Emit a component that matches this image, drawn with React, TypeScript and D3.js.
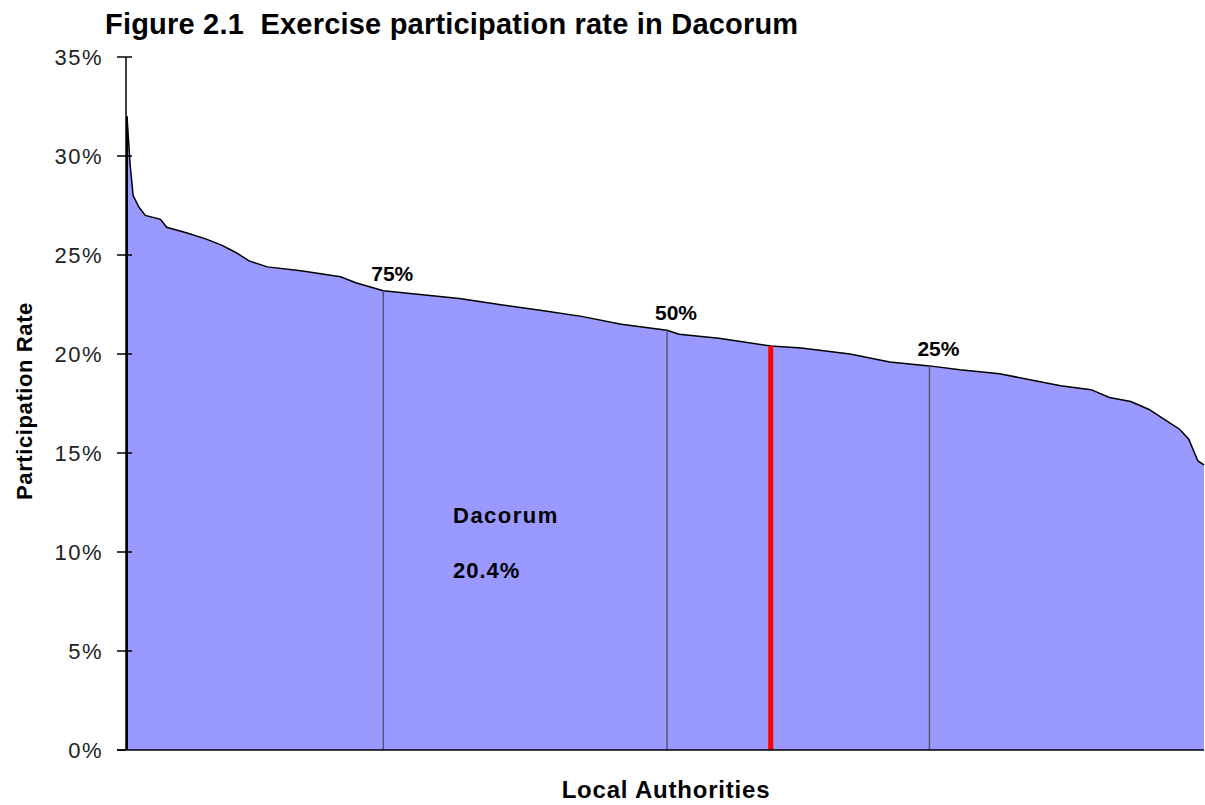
import React from "react";
import * as d3 from "d3";

// sorted participation rates (%) by local authority rank
const ranks = [1, 2, 3, 5, 7, 12, 14, 21, 27, 32, 37, 41, 47, 58, 71, 76, 85, 97, 110, 123, 137, 150, 163, 178, 182, 195, 212, 222, 238, 251, 264, 274, 287, 297, 307, 317, 323, 330, 336, 341, 346, 349, 352, 354];
const rates = [32.0, 29.6, 28.0, 27.4, 27.0, 26.8, 26.4, 26.1, 25.8, 25.5, 25.1, 24.7, 24.4, 24.2, 23.9, 23.6, 23.2, 23.0, 22.8, 22.5, 22.2, 21.9, 21.5, 21.2, 21.0, 20.8, 20.4, 20.3, 20.0, 19.6, 19.4, 19.2, 19.0, 18.7, 18.4, 18.2, 17.8, 17.6, 17.2, 16.7, 16.2, 15.7, 14.6, 14.4];

const quartileLabels = ["75%", "50%", "25%"];
const quartileRanks = [85, 178, 264];
const quartileRates = [23.2, 21.2, 19.4];

const dacorumRank = 212;
const dacorumRate = 20.4;

const yTicks = [0, 5, 10, 15, 20, 25, 30, 35];

export default function App() {
  const W = 1205, H = 805;
  const left = 126, right = 1204, top = 57, bottom = 750;

  const x = d3.scaleLinear().domain([1, 354]).range([left + 1, right]);
  const y = d3.scaleLinear().domain([0, 35]).range([bottom, top]);

  const pts = ranks.map((r, i) => [r, rates[i]] as [number, number]);

  const area = d3.area<[number, number]>()
    .x(d => x(d[0]))
    .y0(y(0))
    .y1(d => y(d[1]));
  const line = d3.line<[number, number]>()
    .x(d => x(d[0]))
    .y(d => y(d[1]));

  const font = "Arial, 'Liberation Sans', sans-serif";

  return (
    <svg width={W} height={H} style={{ position: "absolute", left: 0, top: 0 }}>
      <rect width={W} height={H} fill="#fff" />
      <text x={105} y={34} fontFamily={font} fontWeight="bold" fontSize={29} letterSpacing={0.2} style={{ whiteSpace: "pre" }}>
        {"Figure 2.1  Exercise participation rate in Dacorum"}
      </text>

      <path d={area(pts) || ""} fill="#9999ff" />
      <path d={line(pts) || ""} fill="none" stroke="#000" strokeWidth={1.5} />
      <line x1={x(1)} x2={x(1)} y1={y(rates[0])} y2={bottom} stroke="#000" strokeWidth={2} />

      {quartileRanks.map((r, i) => (
        <g key={quartileLabels[i]}>
          <line x1={x(r)} x2={x(r)} y1={y(quartileRates[i])} y2={bottom} stroke="#55557a" strokeWidth={1.5} />
          <text x={x(r) + 9} y={y(quartileRates[i]) - 10} textAnchor="middle" fontFamily={font} fontWeight="bold" fontSize={21}>
            {quartileLabels[i]}
          </text>
        </g>
      ))}

      <line x1={x(dacorumRank)} x2={x(dacorumRank)} y1={y(dacorumRate)} y2={bottom} stroke="#ff0000" strokeWidth={5} />

      <text x={453} y={523} fontFamily={font} fontWeight="bold" fontSize={22} letterSpacing={1.5}>Dacorum</text>
      <text x={453} y={578} fontFamily={font} fontWeight="bold" fontSize={22} letterSpacing={1}>{dacorumRate.toFixed(1)}%</text>

      {/* axes */}
      <line x1={left} x2={left} y1={top} y2={bottom} stroke="#000" strokeWidth={1.5} />
      <line x1={117} x2={right} y1={bottom} y2={bottom} stroke="#000" strokeWidth={1.5} />
      {yTicks.map(t => (
        <g key={t}>
          <line x1={117} x2={t === 0 ? left : 132} y1={y(t)} y2={y(t)} stroke="#000" strokeWidth={1.5} />
          <text x={103} y={y(t) + 8} textAnchor="end" fontFamily={font} fontSize={22} letterSpacing={1.5} fill="#222">
            {t}%
          </text>
        </g>
      ))}

      <text transform={`translate(32,401) rotate(-90)`} textAnchor="middle" fontFamily={font} fontWeight="bold" fontSize={22} letterSpacing={0.6}>
        Participation Rate
      </text>
      <text x={666} y={798} textAnchor="middle" fontFamily={font} fontWeight="bold" fontSize={24} letterSpacing={0.8}>
        Local Authorities
      </text>
    </svg>
  );
}
